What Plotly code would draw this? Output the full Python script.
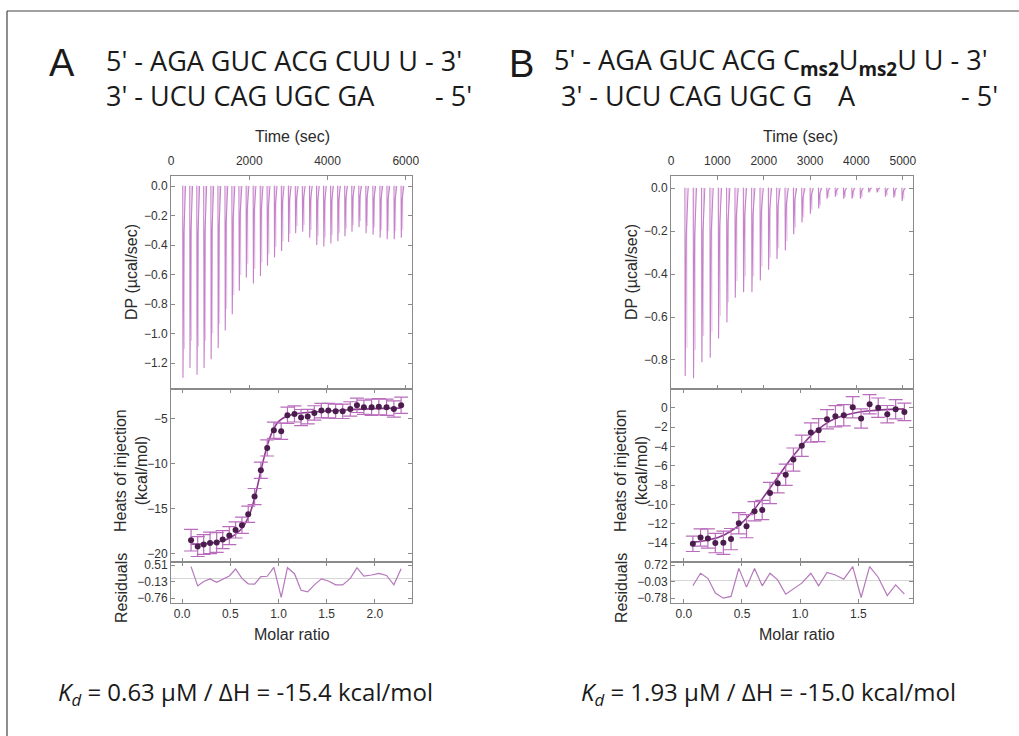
import plotly.graph_objects as go

W, H = 1019, 736

# ---------------- data: panel A ----------------
A_inj_time = [300, 480, 660, 840, 1020, 1200, 1380, 1560, 1740, 1920, 2100, 2280, 2460, 2640, 2820, 3000,
              3180, 3360, 3540, 3720, 3900, 4080, 4260, 4440, 4620, 4800, 4980, 5160, 5340, 5520, 5700, 5880]
A_dp_peak = [-1.30, -1.234, -1.28, -1.234, -1.175, -1.10, -0.98, -0.87, -0.71, -0.62, -0.66, -0.61, -0.54, -0.485,
             -0.44, -0.38, -0.32, -0.31, -0.35, -0.40, -0.41, -0.39, -0.375, -0.34, -0.31, -0.28, -0.32, -0.33,
             -0.35, -0.36, -0.36, -0.35]
A_molar = [0.093, 0.162, 0.224, 0.290, 0.359, 0.421, 0.490, 0.555, 0.621, 0.686, 0.752, 0.817, 0.883, 0.952,
           1.028, 1.093, 1.166, 1.234, 1.303, 1.372, 1.445, 1.517, 1.593, 1.666, 1.745, 1.814, 1.886, 1.966,
           2.041, 2.121, 2.197, 2.272]
A_heat = [-18.48, -19.19, -18.96, -18.78, -18.74, -18.41, -17.96, -17.33, -16.81, -15.59, -13.63, -10.70, -8.22,
          -6.26, -6.37, -4.59, -4.44, -4.85, -4.74, -4.33, -4.07, -4.07, -4.15, -4.15, -3.89, -3.48, -3.70, -3.70,
          -3.63, -3.70, -3.89, -3.48]
A_err = [1.2, 1.1, 1.1, 1.2, 1.1, 1.0, 1.0, 0.9, 0.9, 0.9, 0.9, 0.9, 0.9, 0.9, 0.9, 0.9, 0.9, 0.9, 0.8, 0.8,
         0.8, 0.8, 0.8, 0.8, 0.8, 0.8, 0.8, 0.9, 0.9, 0.9, 0.9, 0.9]
A_fit_x = [0.09, 0.2, 0.3, 0.4, 0.5, 0.6, 0.65, 0.7, 0.75, 0.8, 0.85, 0.9, 0.95, 1.0, 1.05, 1.1, 1.2, 1.4, 1.7, 2.0, 2.27]
A_fit_y = [-18.9, -18.9, -18.8, -18.6, -18.2, -17.4, -16.7, -15.6, -13.9, -11.6, -9.3, -7.4, -6.1, -5.3, -4.9,
           -4.65, -4.4, -4.2, -4.0, -3.85, -3.8]
A_resid = [0.45, -0.29, -0.12, -0.02, -0.15, -0.05, 0.09, 0.36, 0.0, -0.21, -0.22, 0.07, 0.08, 0.42, -0.73, 0.41,
           0.18, -0.46, -0.52, -0.25, -0.02, -0.10, -0.25, -0.25, 0.0, 0.41, 0.09, 0.13, 0.19, 0.11, -0.25, 0.37]

# ---------------- data: panel B ----------------
B_inj_time = [300, 480, 660, 840, 1020, 1200, 1380, 1560, 1740, 1920, 2100, 2280, 2460, 2640, 2820, 3000,
              3180, 3360, 3540, 3720, 3900, 4080, 4260, 4440, 4620, 4800, 4980]
B_dp_peak = [-0.875, -0.885, -0.81, -0.79, -0.70, -0.625, -0.51, -0.485, -0.485, -0.43, -0.38, -0.33, -0.29,
             -0.215, -0.16, -0.12, -0.095, -0.05, -0.04, -0.05, -0.05, -0.05, -0.02, -0.02, -0.04, -0.045, -0.06]
B_molar = [0.078, 0.144, 0.207, 0.271, 0.340, 0.406, 0.473, 0.539, 0.608, 0.674, 0.741, 0.807, 0.876, 0.942,
           1.014, 1.092, 1.159, 1.231, 1.303, 1.375, 1.452, 1.524, 1.597, 1.671, 1.749, 1.821, 1.896]
B_heat = [-14.07, -13.42, -13.52, -14.0, -13.97, -13.59, -11.94, -12.25, -10.71, -10.57, -8.82, -7.79, -6.93,
          -5.35, -3.91, -2.54, -2.30, -1.17, -0.86, -0.75, 0.07, -1.10, 0.38, 0.03, -0.65, -0.14, -0.41]
B_err = [0.8, 0.9, 1.0, 1.0, 1.2, 1.1, 1.1, 1.2, 1.0, 1.0, 1.1, 1.0, 1.1, 1.2, 1.1, 1.0, 1.2, 1.0, 1.1, 1.1,
         1.1, 1.0, 1.0, 1.0, 0.9, 1.0, 0.9]
B_fit_x = [0.08, 0.2, 0.3, 0.4, 0.5, 0.6, 0.7, 0.8, 0.9, 1.0, 1.1, 1.2, 1.3, 1.4, 1.5, 1.6, 1.7, 1.9]
B_fit_y = [-13.9, -13.7, -13.4, -12.8, -11.9, -10.6, -9.0, -7.3, -5.6, -4.1, -2.8, -1.8, -1.1, -0.7, -0.45,
           -0.3, -0.2, -0.1]
B_resid = [-0.22, 0.35, 0.12, -0.55, -0.78, -0.70, 0.57, -0.28, 0.57, -0.22, 0.35, 0.05, -0.60, -0.36, -0.10,
           0.35, -0.22, 0.39, 0.27, 0.08, 0.65, -0.75, 0.65, 0.17, -0.66, -0.18, -0.60]

# tick labels
A_resid_ticks = [0.51, -0.13, -0.76]
B_resid_ticks = [0.72, -0.03, -0.78]

# ---------------- styling ----------------
SPIKE = "#c581c9"
SPIKE2 = "#e6c8e8"
DOT = "#4b1d4d"
FITC = "#8e3a92"
ERRC = "#b96cbc"
RESC = "#b478bb"
AXC = "#8a8a8a"
TXT = "#2b2b2b"
TICKFONT = dict(family="Liberation Sans, Arial, sans-serif", size=12, color="#333333")


def spikes(times, peaks):
    xs, ys, xs2, ys2 = [], [], [], []
    for t, p in zip(times, peaks):
        xs += [t - 4, t, t + 6, t + 30, t + 70, None]
        ys += [0.0, 0.0, p, p * 0.25, 0.0, None]
        xs2 += [t + 40, t + 44, None]
        ys2 += [0.0, p * 0.85, None]
    return xs, ys, xs2, ys2


fig = go.Figure()


def panel(sfx, times, peaks, molar, heat, err, fx, fy, resid):
    xa, ya = sfx
    xs, ys, xs2, ys2 = spikes(times, peaks)
    fig.add_trace(go.Scatter(x=xs2, y=ys2, mode="lines", line=dict(color=SPIKE2, width=1),
                             xaxis="x" + xa[0], yaxis="y" + ya[0], hoverinfo="skip"))
    fig.add_trace(go.Scatter(x=xs, y=ys, mode="lines", line=dict(color=SPIKE, width=1.1),
                             xaxis="x" + xa[0], yaxis="y" + ya[0]))
    fig.add_trace(go.Scatter(x=fx, y=fy, mode="lines", line=dict(color=FITC, width=1.6, shape="spline"),
                             xaxis="x" + xa[1], yaxis="y" + ya[1]))
    fig.add_trace(go.Scatter(x=molar, y=heat, mode="markers",
                             marker=dict(color=DOT, size=6),
                             error_y=dict(type="data", array=err, color=ERRC, thickness=1.2, width=7),
                             xaxis="x" + xa[1], yaxis="y" + ya[1]))
    fig.add_trace(go.Scatter(x=molar, y=resid, mode="lines", line=dict(color=RESC, width=1.2),
                             xaxis="x" + xa[2], yaxis="y" + ya[2]))


panel((["", "2", "3"], ["", "2", "3"]), A_inj_time, A_dp_peak, A_molar, A_heat, A_err, A_fit_x, A_fit_y, A_resid)
panel((["4", "5", "6"], ["4", "5", "6"]), B_inj_time, B_dp_peak, B_molar, B_heat, B_err, B_fit_x, B_fit_y, B_resid)


# ---------------- axes ----------------
def px(x):
    return x / W


def py(y):
    return 1 - y / H


A_dom = [px(171), px(412)]
B_dom = [px(671), px(913)]
DP_dom = [py(389), py(176)]
HT_dom = [py(562), py(389)]
RS_dom = [py(603), py(562)]

base = dict(showline=True, linecolor=AXC, linewidth=1, mirror="ticks", ticks="inside", ticklen=4,
            tickcolor=AXC, showgrid=False, zeroline=False, tickfont=TICKFONT)

lay = {}
# panel A
lay["xaxis"] = dict(base, domain=A_dom, anchor="y", side="top", range=[0, 6160],
                    tickvals=[0, 2000, 4000, 6000], ticklabelstandoff=5)
lay["yaxis"] = dict(base, domain=DP_dom, anchor="x", range=[-1.376, 0.068],
                    tickvals=[0.0, -0.2, -0.4, -0.6, -0.8, -1.0, -1.2], tickformat=".1f")
lay["xaxis2"] = dict(base, domain=A_dom, anchor="y2", range=[-0.115, 2.385],
                     tickvals=[0, 0.5, 1.0, 1.5, 2.0], showticklabels=False)
lay["yaxis2"] = dict(base, domain=HT_dom, anchor="x2", range=[-20.9, -1.67], tickvals=[-5, -10, -15, -20])
lay["xaxis3"] = dict(base, domain=A_dom, anchor="y3", range=[-0.115, 2.385],
                     tickvals=[0, 0.5, 1.0, 1.5, 2.0], tickformat=".1f")
lay["yaxis3"] = dict(base, domain=RS_dom, anchor="x3", range=[-0.95, 0.63],
                     tickvals=A_resid_ticks, ticktext=[f"{v:.2f}".replace("-", "\u2212") for v in A_resid_ticks],
                     zeroline=True, zerolinecolor="#d6d6d6", zerolinewidth=1)
# panel B
lay["xaxis4"] = dict(base, domain=B_dom, anchor="y4", side="top", range=[0, 5220],
                     tickvals=[0, 1000, 2000, 3000, 4000, 5000], ticklabelstandoff=5)
lay["yaxis4"] = dict(base, domain=DP_dom, anchor="x4", range=[-0.935, 0.056],
                     tickvals=[0.0, -0.2, -0.4, -0.6, -0.8], tickformat=".1f")
lay["xaxis5"] = dict(base, domain=B_dom, anchor="y5", range=[-0.11, 1.97],
                     tickvals=[0, 0.5, 1.0, 1.5], showticklabels=False)
lay["yaxis5"] = dict(base, domain=HT_dom, anchor="x5", range=[-15.96, 1.96],
                     tickvals=[0, -2, -4, -6, -8, -10, -12, -14])
lay["xaxis6"] = dict(base, domain=B_dom, anchor="y6", range=[-0.11, 1.97],
                     tickvals=[0, 0.5, 1.0, 1.5], tickformat=".1f")
lay["yaxis6"] = dict(base, domain=RS_dom, anchor="x6", range=[-1.0, 0.86],
                     tickvals=B_resid_ticks, ticktext=[f"{v:.2f}".replace("-", "\u2212") for v in B_resid_ticks],
                     zeroline=True, zerolinecolor="#d6d6d6", zerolinewidth=1)

fig.update_layout(**lay)

# ---------------- annotations ----------------
SEQF = dict(family="Open Sans, Noto Sans, sans-serif", size=27, color="#1a1a1a")
LBLF = dict(family="Liberation Sans, Arial, sans-serif", size=16, color=TXT)
BOTF = dict(family="Open Sans, sans-serif", size=24, color="#1a1a1a")

ann = []


def a(text, x, y, font, xanchor="center", angle=0):
    ann.append(dict(text=text, x=px(x), y=py(y), xref="paper", yref="paper", showarrow=False,
                    xanchor=xanchor, yanchor="middle", font=font, textangle=angle, borderpad=0))


a("A", 62, 63, dict(family="Liberation Sans, Arial, sans-serif", size=38, color="#1a1a1a"))
a("5' - AGA GUC ACG CUU U - 3'", 105, 60, SEQF, "left")
a("3' - UCU CAG UGC GA", 105, 95, SEQF, "left")
a("- 5'", 473, 95, SEQF, "right")

a("B", 521, 64, dict(family="Liberation Sans, Arial, sans-serif", size=38, color="#1a1a1a"))
a("5' - AGA GUC ACG C<sub><b>ms2</b></sub>U<sub><b>ms2</b></sub>U U - 3'", 553, 62, SEQF, "left")
a("3' - UCU CAG UGC G", 560, 95, SEQF, "left")
a("A", 847, 95, SEQF)
a("- 5'", 999, 95, SEQF, "right")

for tx in (292, 800):
    a("Time (sec)", tx, 137, LBLF)
for cx in (0, 500):
    a("DP (\u00b5cal/sec)", 131 + cx, 272, LBLF, angle=-90)
    a("Heats of injection<br>(kcal/mol)", 131 + cx, 471, LBLF, angle=-90)
    a("Residuals", 121 + cx, 588, LBLF, angle=-90)
a("Molar ratio", 292, 634, LBLF)
a("Molar ratio", 797, 634, LBLF)

a("<i>K</i><sub><i>d</i></sub> = 0.63 \u00b5M / \u0394H = -15.4 kcal/mol", 245, 693, BOTF)
a("<i>K</i><sub><i>d</i></sub> = 1.93 \u00b5M / \u0394H = -15.0 kcal/mol", 768, 693, BOTF)

shapes = [
    dict(type="line", xref="paper", yref="paper", x0=px(7), x1=1.0, y0=py(11), y1=py(11),
         line=dict(color="#444444", width=1.2)),
    dict(type="line", xref="paper", yref="paper", x0=px(7), x1=px(7), y0=py(11), y1=0,
         line=dict(color="#444444", width=1.2)),
]

fig.update_layout(width=W, height=H, margin=dict(l=0, r=0, t=0, b=0, autoexpand=False), showlegend=False,
                  paper_bgcolor="white", plot_bgcolor="white", annotations=ann, shapes=shapes)

fig.write_html("out.html", config={"displayModeBar": False},
               post_script="document.body.style.margin='0';document.body.style.overflow='hidden';")
